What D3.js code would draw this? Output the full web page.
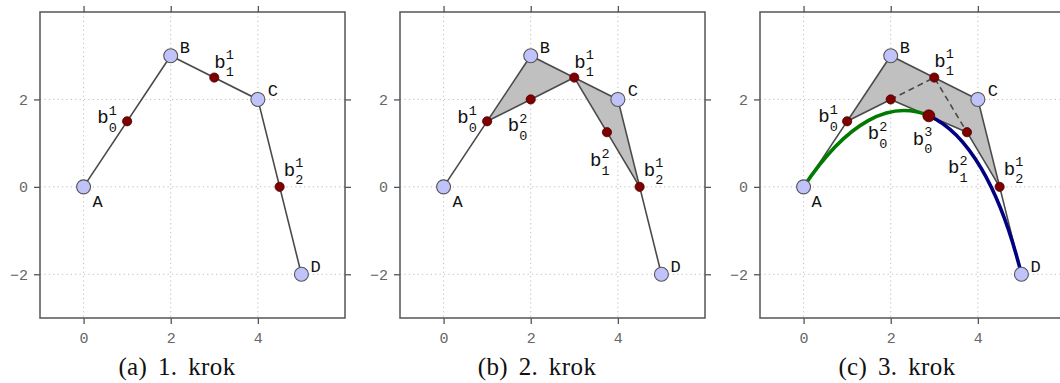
<!DOCTYPE html>
<html>
<head>
<meta charset="utf-8">
<script src="https://cdn.jsdelivr.net/npm/d3@7"></script>
<style>
  html, body { margin: 0; padding: 0; background: #fff; }
  svg { display: block; }
</style>
</head>
<body>
<svg id="chart" width="1060" height="383"></svg>
<script>
// ---------------- data ----------------
const xTicks = [0, 2, 4];
const yTicks = [-2, 0, 2];
const captions = ["(a) 1. krok", "(b) 2. krok", "(c) 3. krok"];

// control points
const ctrlNames = ["A", "B", "C", "D"];
const ctrlX = [0, 2, 4, 5];
const ctrlY = [0, 3, 2, -2];

// de Casteljau level 1 (b_i^1)
const lvl1Sub = ["0", "1", "2"];
const lvl1X = [1, 3, 4.5];
const lvl1Y = [1.5, 2.5, 0];

// level 2 (b_i^2)
const lvl2Sub = ["0", "1"];
const lvl2X = [2, 3.75];
const lvl2Y = [2, 1.25];

// level 3 (b_0^3)
const lvl3Sub = ["0"];
const lvl3X = [2.875];
const lvl3Y = [1.625];

// ---------------- layout ----------------
const panelOffsets = [0, 360, 720];
const box = { left: 40, right: 345, top: 12, bottom: 318 };
const x = d3.scaleLinear().domain([-1, 6]).range([box.left, box.right]);
const y = d3.scaleLinear().domain([-3, 4]).range([box.bottom, box.top]);

const C = {
  grid: "#bdbdbd", frame: "#555", line: "#4a4a4a",
  ctrlFill: "#c0c3fa", ptFill: "#7f0000", ptStroke: "#4a0000",
  shade: "#c0c0c0", green: "#007a00", navy: "#000080",
  tick: "#666"
};
const monoFont = "'Liberation Mono', 'DejaVu Sans Mono', monospace";
const serifFont = "'Liberation Serif', 'DejaVu Serif', serif";
const fmt = d3.format("d");

// label offsets (px) per panel: letters and b-labels
const letterOff = [
  [[9, 20], [9, -3], [10, -3], [9, -2]],
  [[9, 20], [9, -3], [10, -3], [9, -2]],
  [[8, 20], [9, -3], [10, -3], [9, -2]]
];
const lvl1Off = [
  [[-30, 2], [0, -10], [4, -11]],
  [[-30, 2], [0, -10], [4, -11]],
  [[-29, 1], [0, -11], [4, -12]]
];
const lvl2Off = [null, [[-23, 32], [-17, 34]], [[-23, 40], [-19, 41]]];
const lvl3Off = [null, null, [[-16, 29]]];

const svg = d3.select("#chart");

function P(xs, ys, i) { return [x(xs[i]), y(ys[i])]; }

function drawBLabel(g, px, py, sup, sub) {
  g.append("text").attr("x", px).attr("y", py)
    .attr("font-family", monoFont).attr("font-size", 19).attr("fill", "#111")
    .text("b");
  g.append("text").attr("x", px + 11.5).attr("y", py - 8.5)
    .attr("font-family", monoFont).attr("font-size", 13.5).attr("fill", "#111")
    .text(sup);
  g.append("text").attr("x", px + 11.5).attr("y", py + 8.5)
    .attr("font-family", monoFont).attr("font-size", 13.5).attr("fill", "#111")
    .text(sub);
}

panelOffsets.forEach((off, pi) => {
  const g = svg.append("g").attr("transform", `translate(${off},0)`);

  // grid
  g.append("g").selectAll("line").data(xTicks).join("line")
    .attr("x1", d => x(d)).attr("x2", d => x(d))
    .attr("y1", box.top).attr("y2", box.bottom)
    .attr("stroke", C.grid).attr("stroke-width", 1).attr("stroke-dasharray", "1.2,3.2");
  g.append("g").selectAll("line").data(yTicks).join("line")
    .attr("y1", d => y(d)).attr("y2", d => y(d))
    .attr("x1", box.left).attr("x2", box.right)
    .attr("stroke", C.grid).attr("stroke-width", 1).attr("stroke-dasharray", "1.2,3.2");

  const line = d3.line();

  // shaded regions
  if (pi === 1) {
    const t1 = [P(lvl1X, lvl1Y, 0), P(ctrlX, ctrlY, 1), P(lvl1X, lvl1Y, 1)];
    const t2 = [P(lvl1X, lvl1Y, 1), P(ctrlX, ctrlY, 2), P(lvl1X, lvl1Y, 2)];
    [t1, t2].forEach(t => g.append("path").attr("d", line(t) + "Z")
      .attr("fill", C.shade).attr("stroke", "none"));
  }
  if (pi === 2) {
    const poly = [P(lvl1X, lvl1Y, 0), P(ctrlX, ctrlY, 1), P(ctrlX, ctrlY, 2),
                  P(lvl1X, lvl1Y, 2), P(lvl2X, lvl2Y, 1), P(lvl2X, lvl2Y, 0)];
    g.append("path").attr("d", line(poly) + "Z").attr("fill", C.shade).attr("stroke", "none");
  }

  // control polygon
  const ctrlPts = ctrlX.map((_, i) => P(ctrlX, ctrlY, i));
  g.append("path").attr("d", line(ctrlPts)).attr("fill", "none")
    .attr("stroke", C.line).attr("stroke-width", 1.6).attr("stroke-linejoin", "round");

  if (pi >= 1) {
    const a = [P(lvl1X, lvl1Y, 0), P(lvl2X, lvl2Y, 0), P(lvl1X, lvl1Y, 1)];
    const b = [P(lvl1X, lvl1Y, 1), P(lvl2X, lvl2Y, 1), P(lvl1X, lvl1Y, 2)];
    if (pi === 1) {
      [a, b].forEach(s => g.append("path").attr("d", line(s)).attr("fill", "none")
        .attr("stroke", C.line).attr("stroke-width", 1.6).attr("stroke-linejoin", "round"));
    } else {
      const solid = [P(lvl1X, lvl1Y, 0), P(lvl2X, lvl2Y, 0), P(lvl2X, lvl2Y, 1), P(lvl1X, lvl1Y, 2)];
      g.append("path").attr("d", line(solid)).attr("fill", "none")
        .attr("stroke", C.line).attr("stroke-width", 1.6).attr("stroke-linejoin", "round");
      const dashed = [P(lvl2X, lvl2Y, 0), P(lvl1X, lvl1Y, 1), P(lvl2X, lvl2Y, 1)];
      g.append("path").attr("d", line(dashed)).attr("fill", "none")
        .attr("stroke", C.line).attr("stroke-width", 1.6).attr("stroke-dasharray", "6,4");
    }
  }

  if (pi === 2) {
    const A = P(ctrlX, ctrlY, 0), D = P(ctrlX, ctrlY, 3);
    const m = P(lvl3X, lvl3Y, 0);
    const p1 = d3.path();
    p1.moveTo(A[0], A[1]);
    const q0 = P(lvl1X, lvl1Y, 0), q1 = P(lvl2X, lvl2Y, 0);
    p1.bezierCurveTo(q0[0], q0[1], q1[0], q1[1], m[0], m[1]);
    g.append("path").attr("d", p1.toString()).attr("fill", "none")
      .attr("stroke", C.green).attr("stroke-width", 3.6).attr("stroke-linecap", "round");
    const p2 = d3.path();
    p2.moveTo(m[0], m[1]);
    const r0 = P(lvl2X, lvl2Y, 1), r1 = P(lvl1X, lvl1Y, 2);
    p2.bezierCurveTo(r0[0], r0[1], r1[0], r1[1], D[0], D[1]);
    g.append("path").attr("d", p2.toString()).attr("fill", "none")
      .attr("stroke", C.navy).attr("stroke-width", 3.6).attr("stroke-linecap", "round");
  }

  // points
  const dots = g.append("g");
  dots.selectAll("circle.c").data(ctrlX.map((_, i) => i)).join("circle")
    .attr("cx", i => x(ctrlX[i])).attr("cy", i => y(ctrlY[i])).attr("r", 7)
    .attr("fill", C.ctrlFill).attr("stroke", "#555").attr("stroke-width", 1.1);
  dots.selectAll("circle.l1").data(lvl1X.map((_, i) => i)).join("circle")
    .attr("cx", i => x(lvl1X[i])).attr("cy", i => y(lvl1Y[i])).attr("r", 4.6)
    .attr("fill", C.ptFill).attr("stroke", C.ptStroke).attr("stroke-width", 0.8);
  if (pi >= 1) {
    g.append("g").selectAll("circle").data(lvl2X.map((_, i) => i)).join("circle")
      .attr("cx", i => x(lvl2X[i])).attr("cy", i => y(lvl2Y[i])).attr("r", 4.6)
      .attr("fill", C.ptFill).attr("stroke", C.ptStroke).attr("stroke-width", 0.8);
  }
  if (pi === 2) {
    g.append("g").selectAll("circle").data(lvl3X.map((_, i) => i)).join("circle")
      .attr("cx", i => x(lvl3X[i])).attr("cy", i => y(lvl3Y[i])).attr("r", 6)
      .attr("fill", C.ptFill).attr("stroke", C.ptStroke).attr("stroke-width", 0.8);
  }

  // labels
  ctrlNames.forEach((n, i) => {
    g.append("text")
      .attr("x", x(ctrlX[i]) + letterOff[pi][i][0])
      .attr("y", y(ctrlY[i]) + letterOff[pi][i][1])
      .attr("font-family", monoFont).attr("font-size", 17).attr("fill", "#111")
      .text(n);
  });
  lvl1Sub.forEach((s, i) => drawBLabel(g, x(lvl1X[i]) + lvl1Off[pi][i][0], y(lvl1Y[i]) + lvl1Off[pi][i][1], "1", s));
  if (pi >= 1) lvl2Sub.forEach((s, i) => drawBLabel(g, x(lvl2X[i]) + lvl2Off[pi][i][0], y(lvl2Y[i]) + lvl2Off[pi][i][1], "2", s));
  if (pi === 2) lvl3Sub.forEach((s, i) => drawBLabel(g, x(lvl3X[i]) + lvl3Off[pi][i][0], y(lvl3Y[i]) + lvl3Off[pi][i][1], "3", s));

  // frame
  g.append("rect").attr("x", box.left).attr("y", box.top)
    .attr("width", box.right - box.left).attr("height", box.bottom - box.top)
    .attr("fill", "none").attr("stroke", C.frame).attr("stroke-width", 1.5);

  // axes
  const styleAxis = sel => {
    sel.select(".domain").remove();
    sel.selectAll(".tick line").attr("stroke", C.frame).attr("stroke-width", 1.3);
    sel.selectAll(".tick text").attr("fill", C.tick)
      .attr("font-family", monoFont).attr("font-size", 15);
  };
  g.append("g").attr("transform", `translate(0,${box.bottom})`)
    .call(d3.axisBottom(x).tickValues(xTicks).tickSize(6).tickPadding(8).tickFormat(fmt)).call(styleAxis);
  g.append("g").attr("transform", `translate(0,${box.top})`)
    .call(d3.axisTop(x).tickValues(xTicks).tickSize(6).tickFormat("")).call(styleAxis);
  g.append("g").attr("transform", `translate(${box.left},0)`)
    .call(d3.axisLeft(y).tickValues(yTicks).tickSize(6).tickPadding(6).tickFormat(fmt)).call(styleAxis);
  g.append("g").attr("transform", `translate(${box.right},0)`)
    .call(d3.axisRight(y).tickValues(yTicks).tickSize(6).tickFormat("")).call(styleAxis);

  // caption
  g.append("text").attr("x", 177).attr("y", 375).attr("text-anchor", "middle")
    .attr("font-family", serifFont).attr("font-size", 25).attr("fill", "#111")
    .attr("word-spacing", 4).attr("letter-spacing", 0.4)
    .text(captions[pi]);
});
</script>
</body>
</html>
